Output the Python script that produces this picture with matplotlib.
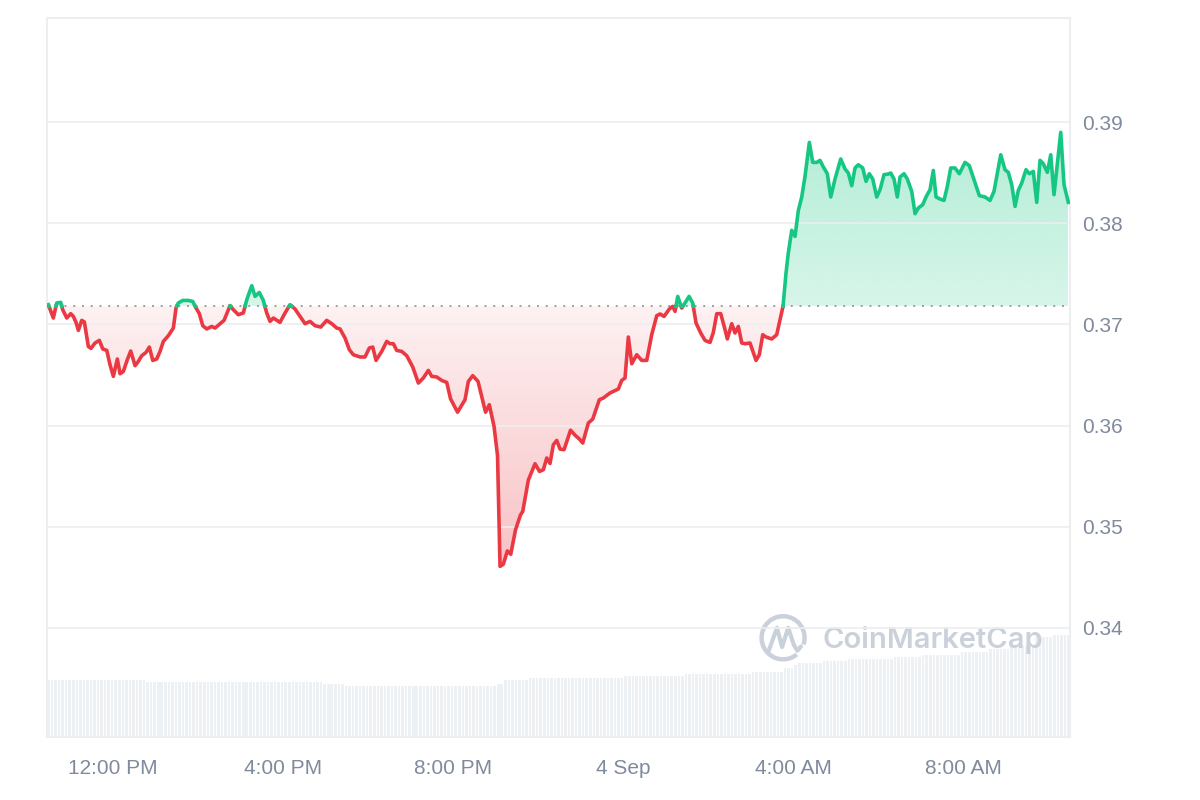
import numpy as np
import matplotlib.pyplot as plt
from matplotlib.path import Path
from matplotlib.patches import PathPatch, Arc
from matplotlib.colors import to_rgb

plt.rcParams['font.family'] = ['Liberation Sans', 'DejaVu Sans']

# ─── Data ──────────────────────────────────────────────────────────────────────
# time in hours relative to 12:00 PM (3 Sep)
hours = [
    -1.522, -1.405, -1.325, -1.231, -1.184, -1.089, -0.995, -0.934, -0.871, -0.816,
    -0.736, -0.675, -0.581, -0.518, -0.424, -0.322, -0.242, -0.148, -0.071, 0.007,
    0.101, 0.165, 0.242, 0.336, 0.416, 0.518, 0.595, 0.675, 0.776, 0.854,
    0.934, 1.028, 1.106, 1.184, 1.301, 1.419, 1.482, 1.536, 1.640, 1.772,
    1.875, 1.953, 2.031, 2.111, 2.205, 2.322, 2.400, 2.518, 2.612, 2.753,
    2.831, 2.948, 3.066, 3.146, 3.264, 3.341, 3.442, 3.536, 3.616, 3.694,
    3.772, 3.929, 4.047, 4.165, 4.282, 4.400, 4.518, 4.635, 4.753, 4.887,
    5.028, 5.146, 5.264, 5.341, 5.459, 5.560, 5.654, 5.812, 5.929, 6.031,
    6.111, 6.188, 6.322, 6.440, 6.518, 6.595, 6.675, 6.793, 6.911, 7.052,
    7.184, 7.301, 7.419, 7.499, 7.616, 7.734, 7.852, 7.941, 8.106, 8.282,
    8.360, 8.464, 8.588, 8.765, 8.854, 8.965, 9.047, 9.106, 9.184, 9.278,
    9.358, 9.471, 9.588, 9.640, 9.772, 9.929, 10.035, 10.125, 10.205, 10.282,
    10.360, 10.440, 10.518, 10.612, 10.765, 10.871, 10.972, 11.052, 11.184, 11.287,
    11.442, 11.536, 11.694, 11.889, 11.969, 12.047, 12.125, 12.205, 12.322, 12.440,
    12.558, 12.675, 12.793, 12.871, 12.965, 13.089, 13.169, 13.224, 13.287, 13.381,
    13.459, 13.553, 13.640, 13.718, 13.828, 13.929, 14.047, 14.125, 14.205, 14.299,
    14.400, 14.454, 14.558, 14.635, 14.713, 14.793, 14.871, 14.988, 15.129, 15.207,
    15.287, 15.365, 15.499, 15.616, 15.765, 15.835, 15.889, 15.969, 16.047, 16.125,
    16.205, 16.282, 16.384, 16.464, 16.558, 16.635, 16.713, 16.807, 16.887, 16.988,
    17.122, 17.224, 17.301, 17.381, 17.459, 17.536, 17.640, 17.718, 17.795, 17.875,
    17.969, 18.047, 18.141, 18.242, 18.299, 18.376, 18.454, 18.518, 18.612, 18.689,
    18.793, 18.871, 18.948, 19.052, 19.129, 19.224, 19.301, 19.365, 19.459, 19.553,
    19.631, 19.711, 19.812, 19.913, 20.047, 20.148, 20.259, 20.384, 20.518, 20.635,
    20.729, 20.887, 20.988, 21.066, 21.146, 21.224, 21.301, 21.381, 21.482, 21.560,
    21.654, 21.734, 21.812, 21.889, 21.984, 22.064, 22.141, 22.299, 22.376, 22.478,
]

price = [
    0.37195, 0.37063, 0.37212, 0.37218, 0.37145, 0.37063, 0.37106, 0.37079, 0.37020, 0.36941,
    0.37040, 0.37024, 0.36782, 0.36763, 0.36816, 0.36842, 0.36757, 0.36743, 0.36601, 0.36486,
    0.36658, 0.36512, 0.36535, 0.36651, 0.36737, 0.36592, 0.36634, 0.36690, 0.36723, 0.36776,
    0.36644, 0.36658, 0.36733, 0.36832, 0.36888, 0.36964, 0.37162, 0.37212, 0.37237, 0.37237,
    0.37227, 0.37162, 0.37106, 0.36987, 0.36955, 0.36980, 0.36964, 0.37007, 0.37040, 0.37185,
    0.37145, 0.37096, 0.37113, 0.37244, 0.37383, 0.37277, 0.37316, 0.37237, 0.37113, 0.37030,
    0.37063, 0.37020, 0.37113, 0.37195, 0.37152, 0.37079, 0.37007, 0.37030, 0.36987, 0.36974,
    0.37040, 0.37007, 0.36964, 0.36955, 0.36865, 0.36750, 0.36700, 0.36678, 0.36678, 0.36767,
    0.36776, 0.36644, 0.36733, 0.36832, 0.36809, 0.36809, 0.36743, 0.36733, 0.36690, 0.36579,
    0.36420, 0.36470, 0.36545, 0.36486, 0.36480, 0.36446, 0.36426, 0.36265, 0.36132, 0.36255,
    0.36436, 0.36493, 0.36436, 0.36132, 0.36206, 0.35991, 0.35702, 0.34607, 0.34629, 0.34760,
    0.34727, 0.34970, 0.35117, 0.35150, 0.35461, 0.35622, 0.35546, 0.35563, 0.35679, 0.35625,
    0.35810, 0.35853, 0.35767, 0.35761, 0.35954, 0.35904, 0.35867, 0.35827, 0.36025, 0.36064,
    0.36255, 0.36272, 0.36322, 0.36361, 0.36446, 0.36470, 0.36875, 0.36611, 0.36700, 0.36644,
    0.36644, 0.36898, 0.37086, 0.37103, 0.37079, 0.37152, 0.37178, 0.37129, 0.37277, 0.37162,
    0.37212, 0.37277, 0.37212, 0.37014, 0.36915, 0.36842, 0.36822, 0.36921, 0.37106, 0.37106,
    0.36948, 0.36856, 0.37007, 0.36915, 0.36980, 0.36816, 0.36809, 0.36816, 0.36644, 0.36700,
    0.36898, 0.36875, 0.36856, 0.36898, 0.37180, 0.37508, 0.37706, 0.37930, 0.37870, 0.38127,
    0.38260, 0.38464, 0.38800, 0.38602, 0.38602, 0.38622, 0.38557, 0.38490, 0.38260, 0.38438,
    0.38636, 0.38537, 0.38497, 0.38372, 0.38547, 0.38579, 0.38547, 0.38414, 0.38490, 0.38438,
    0.38260, 0.38332, 0.38481, 0.38487, 0.38497, 0.38438, 0.38260, 0.38458, 0.38490, 0.38438,
    0.38315, 0.38095, 0.38151, 0.38184, 0.38260, 0.38332, 0.38523, 0.38260, 0.38240, 0.38226,
    0.38365, 0.38547, 0.38547, 0.38490, 0.38602, 0.38570, 0.38431, 0.38273, 0.38260, 0.38226,
    0.38315, 0.38678, 0.38530, 0.38503, 0.38382, 0.38167, 0.38325, 0.38398, 0.38530, 0.38490,
    0.38513, 0.38207, 0.38622, 0.38589, 0.38503, 0.38678, 0.38283, 0.38899, 0.38382, 0.38207,
]

ref_price = 0.3718  # opening price (dotted line)

# 24h volume (arbitrary units, millions) – step levels
vol_start = [-1.55, 0.80, 4.94, 5.46, 9.06, 9.22, 9.81, 12.05, 13.41, 15.04, 15.74,
             16.00, 16.12, 16.71, 17.27, 18.35, 19.06, 19.93, 20.64, 21.11, 21.65, 22.12]
vol_level = [5.7, 5.5, 5.3, 5.1, 5.3, 5.7, 5.9, 6.1, 6.3, 6.5, 6.9,
             7.2, 7.4, 7.6, 7.8, 8.0, 8.2, 8.5, 8.8, 9.2, 10.0, 10.2]

tick_hours = [0, 4, 8, 12, 16, 20]
tick_labels = ['12:00 PM', '4:00 PM', '8:00 PM', '4 Sep', '4:00 AM', '8:00 AM']
price_ticks = [0.34, 0.35, 0.36, 0.37, 0.38, 0.39]

GREEN = '#16c784'
RED = '#ea3943'
GRID = '#eceef1'
TXT = '#808a9d'
MARK = '#cbd1da'

# ─── Figure ────────────────────────────────────────────────────────────────────
fig = plt.figure(figsize=(12, 8), dpi=100)
ax_vol = fig.add_axes([0.0392, 0.07875, 0.8525, 0.89875])
ax = fig.add_axes([0.0392, 0.07875, 0.8525, 0.89875], sharex=ax_vol)
ax.patch.set_visible(False)

# volume bars (5-min buckets)
bar_t = np.arange(-1.52, 22.5, 1 / 12)
idx = np.searchsorted(vol_start, bar_t, side='right') - 1
bar_v = np.array(vol_level)[idx]
ax_vol.bar(bar_t, bar_v, width=1 / 12 * 0.72, color='#eef1f4', linewidth=0)
ax_vol.set_ylim(0, 71.9)
ax_vol.set_yticks([])
ax_vol.tick_params(axis='x', length=0, labelbottom=False)
for s in ax_vol.spines.values():
    s.set_visible(False)

# insert crossing points so the line changes colour exactly at the baseline
t = np.array(hours)
p = np.array(price)
xs, ys = [t[0]], [p[0]]
for i in range(1, len(t)):
    a, b = p[i - 1] - ref_price, p[i] - ref_price
    if a * b < 0:
        f = a / (a - b)
        xs.append(t[i - 1] + f * (t[i] - t[i - 1]))
        ys.append(ref_price)
    xs.append(t[i])
    ys.append(p[i])
xs = np.array(xs)
ys = np.array(ys)


def gradient_fill(above, color, a_near, a_far):
    mask = ys >= ref_price if above else ys <= ref_price
    coll = ax.fill_between(xs, ys, ref_price, where=mask, facecolor='none', edgecolor='none')
    clip = PathPatch(Path.make_compound_path(*coll.get_paths()), transform=ax.transData,
                     facecolor='none', edgecolor='none')
    ax.add_patch(clip)
    grad = np.zeros((200, 1, 4))
    grad[..., :3] = to_rgb(color)
    if above:
        y0, y1 = ref_price, ys.max()
        grad[:, 0, 3] = np.linspace(a_near, a_far, 200)
    else:
        y0, y1 = ys.min(), ref_price
        grad[:, 0, 3] = np.linspace(a_far, a_near, 200)
    im = ax.imshow(grad, extent=[xs.min(), xs.max(), y0, y1], origin='lower',
                   aspect='auto', zorder=1, interpolation='bilinear')
    im.set_clip_path(clip)


gradient_fill(True, GREEN, 0.17, 0.33)
gradient_fill(False, RED, 0.07, 0.31)

up = np.where(ys >= ref_price, ys, np.nan)
dn = np.where(ys <= ref_price, ys, np.nan)
ax.plot(xs, dn, color=RED, lw=2.6, solid_joinstyle='round', zorder=3)
ax.plot(xs, up, color=GREEN, lw=2.6, solid_joinstyle='round', zorder=3)
ax.axhline(ref_price, color='#9a9ea6', lw=1.4, ls=(0, (1, 3.5)), zorder=2)

# axes styling
ax.set_xlim(-1.553, 22.518)
ax.set_ylim(0.3292, 0.4003)
ax.set_yticks(price_ticks)
ax.set_yticklabels([f'{v:.2f}' for v in price_ticks])
ax.yaxis.tick_right()
ax.set_xticks(tick_hours)
ax.set_xticklabels(tick_labels)
ax.tick_params(axis='both', length=0, labelsize=15, colors=TXT)
ax.tick_params(axis='y', pad=9)
ax.tick_params(axis='x', pad=16)
ax.grid(axis='y', color=GRID, lw=1.2, zorder=0)
for s in ax.spines.values():
    s.set_color(GRID)
    s.set_linewidth(1.5)

# watermark
ax.add_patch(Arc((0.7195, 0.138), 0.042, 0.060, theta1=-25, theta2=300,
                 transform=ax.transAxes, color=MARK, lw=3.2, zorder=1))
ax.plot([0.705, 0.7135, 0.7185, 0.7245, 0.7300, 0.7335, 0.7370],
        [0.118, 0.152, 0.125, 0.152, 0.128, 0.120, 0.126],
        transform=ax.transAxes, color=MARK, lw=3.0, solid_capstyle='round', zorder=1)
ax.text(0.7576, 0.135, 'CoinMarketCap', transform=ax.transAxes, fontsize=21,
        fontweight='semibold', color=MARK, va='center', ha='left', zorder=1,
        family=['Inter', 'DejaVu Sans'])

plt.savefig('out.png', dpi=100)
plt.close()
